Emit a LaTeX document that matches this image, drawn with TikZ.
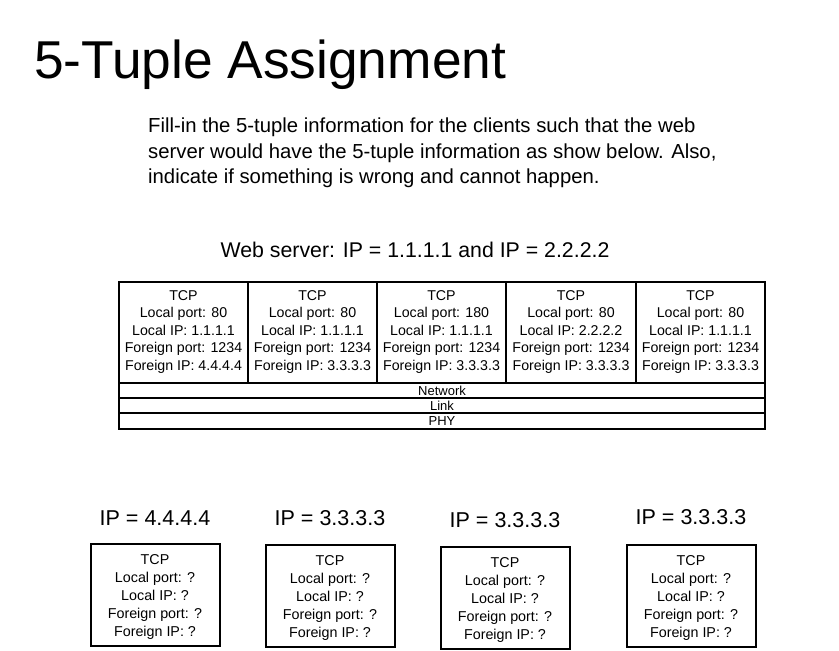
\documentclass[tikz,border=0pt]{standalone}
\usepackage{fontspec}
\setmainfont{Liberation Sans}
\begin{document}
\begin{tikzpicture}[x=1pt,y=-1pt,
  cell/.style={draw,line width=1.6pt,inner sep=0pt},
  celltxt/.style={font=\fontsize{14.2}{17.5}\selectfont,align=center},
  row/.style={font=\fontsize{13}{13}\selectfont,inner sep=0pt},
  iplbl/.style={font=\fontsize{21.5}{24}\selectfont}]
\useasboundingbox (0,0) rectangle (839,651);
\node[anchor=base west,font=\fontsize{53.3}{60}\selectfont,inner sep=0pt] (title) at (34,78) {5-Tuple Assignment};
\node[anchor=north west,align=left,font=\fontsize{20.3}{25.5}\selectfont,inner sep=0pt] (para) at (148,118)
 {Fill-in the 5-tuple information for the clients such that the web\\server would have the 5-tuple information as show below. Also,\\indicate if something is wrong and cannot happen.};
\node[font=\fontsize{21.3}{24}\selectfont] (ws) at (415,250) {Web server: IP = 1.1.1.1 and IP = 2.2.2.2};
\foreach \i/\a/\b/\lp/\lip/\fip in {1/119/248/80/1.1.1.1/4.4.4.4,2/248/377/80/1.1.1.1/3.3.3.3,3/377/506/180/1.1.1.1/3.3.3.3,4/506/636/80/2.2.2.2/3.3.3.3,5/636/765/80/1.1.1.1/3.3.3.3}{
  \draw[cell] (\a,282) rectangle (\b,383);
  \node[celltxt] (s\i) at ({(\a+\b)/2},332) {TCP\\Local port: \lp\\Local IP: \lip\\Foreign port: 1234\\Foreign IP: \fip};
}
\draw[cell] (119,383) rectangle (765,398);
\draw[cell] (119,398) rectangle (765,413);
\draw[cell] (119,413) rectangle (765,429);
\node[row] (net) at (442,391) {Network};
\node[row] (link) at (442,406) {Link};
\node[row] (phy) at (442,421) {PHY};
\foreach \i/\a/\t/\ly in {1/91/544/518,2/266/545/518,3/441/547/520,4/627/545/517}{
  \node[iplbl] (l\i) at ({\a+64},\ly) {IP = \ifnum\i=1 4.4.4.4\else 3.3.3.3\fi};
  \draw[cell] (\a,\t) rectangle ({\a+129},{\t+102});
  \node[celltxt,font=\fontsize{14.3}{18}\selectfont] (c\i) at ({\a+64},{\t+53}) {TCP\\Local port: ?\\Local IP: ?\\Foreign port: ?\\Foreign IP: ?};
}
\end{tikzpicture}
\end{document}
